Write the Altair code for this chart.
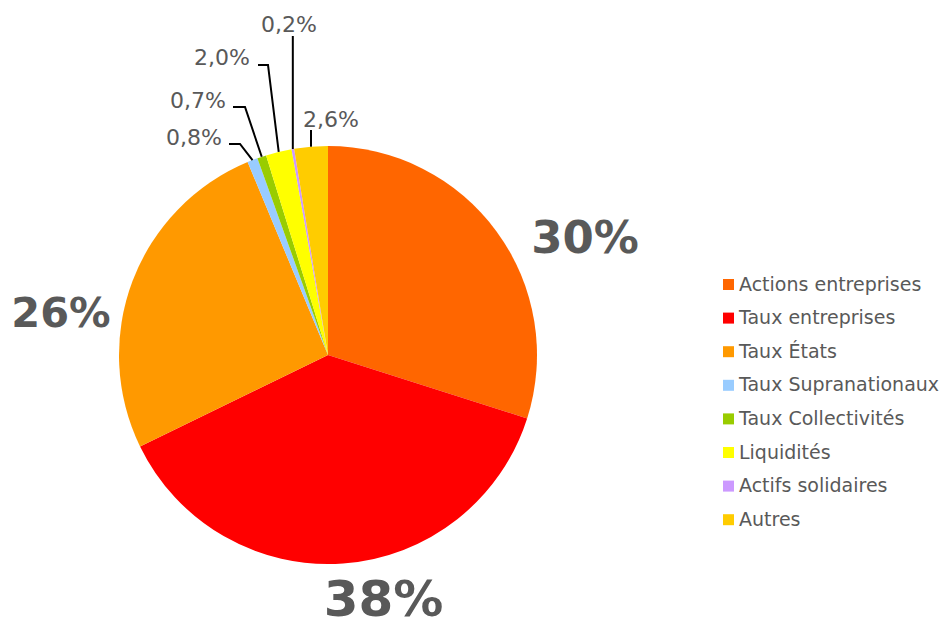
import altair as alt
import pandas as pd
import numpy as np

# ---- data ----
categories = ["Actions entreprises", "Taux entreprises", "Taux États", "Taux Supranationaux",
              "Taux Collectivités", "Liquidités", "Actifs solidaires", "Autres"]
values = [30.0, 38.0, 26.0, 0.8, 0.7, 2.0, 0.2, 2.6]
labels = ["30%", "38%", "26%", "0,8%", "0,7%", "2,0%", "0,2%", "2,6%"]
colors = ["#FF6600", "#FF0000", "#FF9900", "#99CCFF", "#99CC00", "#FFFF00", "#CC99FF", "#FFCC00"]

# ---- layout (pixels, chart coordinates) ----
W, H = 934, 614
CX, CY, R = 320, 347, 209
TEXT = "#595959"
FONT = "DejaVu Sans"

big_pos = {0: (577, 245, 45), 1: (375.5, 608, 50), 2: (53, 319, 41.5)}   # center x, baseline, size
small_pos = {3: (214, 137, "right"), 4: (218, 100, "right"), 5: (242, 57, "right"),
             6: (281, 24, "center"), 7: (323, 119, "center")}
leader_pts = {3: [(232, 136), (221, 136)], 4: [(237, 99), (225, 99)], 5: [(260, 57), (250, 57)],
              6: [(None, 28)], 7: [(None, 122)]}

df = pd.DataFrame({"cat": categories, "value": values, "label": labels, "idx": range(len(values))})

total = sum(values)
cum_end = np.cumsum(values) / total
cum_start = cum_end - np.array(values) / total
mid = (cum_start + cum_end) / 2 * 2 * np.pi
edge_x = CX + R * np.sin(mid)
edge_y = CY - R * np.cos(mid)

rows = []
for i, pts in leader_pts.items():
    rows.append({"cat": categories[i], "step": 0, "px": edge_x[i], "py": edge_y[i]})
    for k, (x, y) in enumerate(pts):
        rows.append({"cat": categories[i], "step": k + 1, "px": edge_x[i] if x is None else x, "py": y})
lines_df = pd.DataFrame(rows)

big_df = pd.DataFrame([{"label": labels[i], "tx": p[0], "ty": p[1], "fs": p[2]} for i, p in big_pos.items()])
right_df = pd.DataFrame([{"label": labels[i], "tx": p[0], "ty": p[1]} for i, p in small_pos.items() if p[2] == "right"])
center_df = pd.DataFrame([{"label": labels[i], "tx": p[0], "ty": p[1]} for i, p in small_pos.items() if p[2] == "center"])

pie = alt.Chart(df).mark_arc(outerRadius=R).encode(
    theta=alt.Theta("value:Q", stack=True),
    order=alt.Order("idx:Q"),
    color=alt.Color("cat:N", scale=alt.Scale(domain=categories, range=colors),
                    legend=alt.Legend(orient="none", legendX=711, legendY=267, title=None,
                                      symbolType="square", symbolSize=121, symbolStrokeWidth=0,
                                      labelFontSize=19, labelFont=FONT, labelColor=TEXT,
                                      labelOffset=1, rowPadding=13.6, labelLimit=0)),
    x=alt.value(CX), y=alt.value(CY),
)

leaders = alt.Chart(lines_df).mark_line(color="black", strokeWidth=2).encode(
    x=alt.X("px:Q", scale=None, axis=None),
    y=alt.Y("py:Q", scale=None, axis=None),
    detail="cat:N",
    order="step:Q",
)

big_text = alt.Chart(big_df).mark_text(align="center", baseline="alphabetic", font=FONT,
                                       fontWeight="bold", color=TEXT).encode(
    x=alt.X("tx:Q", scale=None, axis=None),
    y=alt.Y("ty:Q", scale=None, axis=None),
    size=alt.Size("fs:Q", scale=None, legend=None),
    text="label:N",
)


def text_layer(d, align, size):
    return alt.Chart(d).mark_text(align=align, baseline="alphabetic", font=FONT, fontSize=size,
                                  color=TEXT).encode(
        x=alt.X("tx:Q", scale=None, axis=None),
        y=alt.Y("ty:Q", scale=None, axis=None),
        text="label:N",
    )


chart = alt.layer(
    pie, leaders, big_text,
    text_layer(right_df, "right", 22),
    text_layer(center_df, "center", 22),
).properties(width=W, height=H, autosize="none", padding=0).configure_view(stroke=None)

chart.save("out.html", embed_options={"renderer": "svg", "actions": False})
